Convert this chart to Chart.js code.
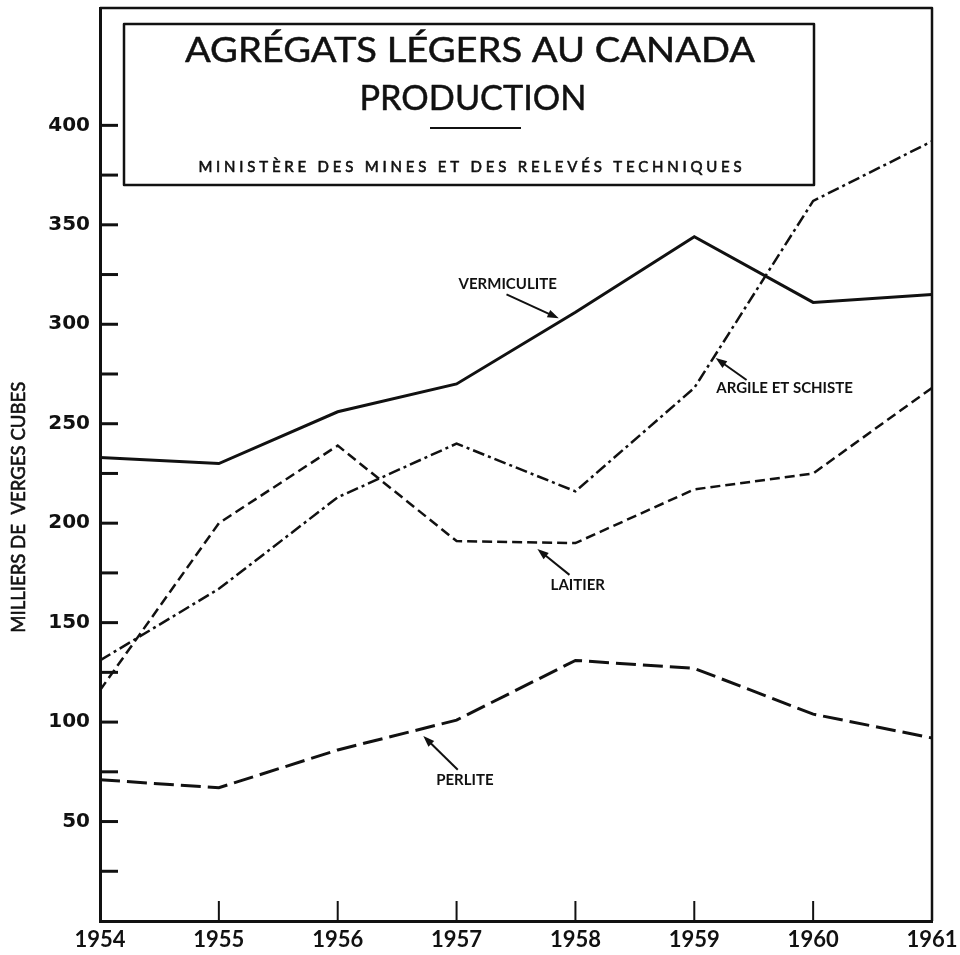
<!DOCTYPE html>
<html>
<head>
<meta charset="utf-8">
<script src="https://cdn.jsdelivr.net/npm/chart.js@4.4.0/dist/chart.umd.min.js"></script>
<style>
  html, body { margin: 0; padding: 0; background: #fff; }
  #chart { display: block; }
</style>
</head>
<body>
<canvas id="chart" width="960" height="955"></canvas>
<script>
const years = ["1954", "1955", "1956", "1957", "1958", "1959", "1960", "1961"];

// milliers de verges cubes
const vermiculite = [233, 230, 256, 270, 306, 344, 311, 315];
const argileSchiste = [131, 167, 213, 240, 216, 268, 362, 392];
const laitier = [116, 200, 239, 191, 190, 217, 225, 268];
const perlite = [71, 67, 86, 101, 131, 127, 104, 92];

const yTicks = [25, 50, 75, 100, 125, 150, 175, 200, 225, 250, 275, 300, 325, 350, 375, 400];
const yLabelled = [50, 100, 150, 200, 250, 300, 350, 400];

const titleLines = ["AGRÉGATS LÉGERS AU CANADA", "PRODUCTION"];
const subtitle = "MINISTÈRE DES MINES ET DES RELEVÉS TECHNIQUES";
const yTitle = "MILLIERS DE  VERGES CUBES";

// label callouts, in data units (x = year index, y = value)
const callouts = [
  { text: "VERMICULITE", at: [3.43, 320], from: [3.42, 315], to: [3.86, 303] },
  { text: "ARGILE ET SCHISTE", at: [5.76, 268], from: [5.44, 272], to: [5.18, 283] },
  { text: "LAITIER", at: [4.02, 169], from: [3.95, 174], to: [3.68, 187] },
  { text: "PERLITE", at: [3.07, 71], from: [3.01, 76], to: [2.72, 93] },
];

const INK = "#111";

function arrow(ctx, x1, y1, x2, y2) {
  const ang = Math.atan2(y2 - y1, x2 - x1);
  const head = 12;
  ctx.beginPath();
  ctx.moveTo(x1, y1);
  ctx.lineTo(x2 - Math.cos(ang) * head * 0.6, y2 - Math.sin(ang) * head * 0.6);
  ctx.stroke();
  ctx.beginPath();
  ctx.moveTo(x2, y2);
  ctx.lineTo(x2 - head * Math.cos(ang - 0.35), y2 - head * Math.sin(ang - 0.35));
  ctx.lineTo(x2 - head * Math.cos(ang + 0.35), y2 - head * Math.sin(ang + 0.35));
  ctx.closePath();
  ctx.fill();
}

// squeeze/stretch a line of text to a given width, centred on x;
// a thin stroke gives the medium weight of the original lettering
function fitText(ctx, text, x, y, width, weight) {
  const w = ctx.measureText(text).width;
  ctx.save();
  ctx.translate(x, y);
  ctx.scale(width / w, 1);
  ctx.fillText(text, 0, 0);
  if (weight) {
    ctx.lineWidth = weight;
    ctx.strokeText(text, 0, 0);
  }
  ctx.restore();
}

const decor = {
  id: "decor",
  afterDraw(chart) {
    const { ctx, chartArea: a, scales } = chart;
    const xs = scales.x, ys = scales.y;
    ctx.save();
    ctx.strokeStyle = INK;
    ctx.fillStyle = INK;
    ctx.lineCap = "butt";
    ctx.lineJoin = "round";

    // frame top + right
    ctx.lineWidth = 2.5;
    ctx.beginPath();
    ctx.moveTo(a.left, a.top);
    ctx.lineTo(a.right, a.top);
    ctx.lineTo(a.right, a.bottom);
    ctx.stroke();

    // inward ticks
    ctx.lineWidth = 3;
    yTicks.forEach((v) => {
      const py = ys.getPixelForValue(v);
      ctx.beginPath();
      ctx.moveTo(a.left, py);
      ctx.lineTo(a.left + 18, py);
      ctx.stroke();
    });
    ctx.lineWidth = 2;
    for (let i = 1; i < years.length - 1; i++) {
      const px = xs.getPixelForValue(i);
      ctx.beginPath();
      ctx.moveTo(px, a.bottom);
      ctx.lineTo(px, a.bottom - 20);
      ctx.stroke();
    }

    // title box
    const bx = a.left + 24, by = a.top + 16, bw = 690, bh = 161;
    ctx.lineWidth = 2.5;
    ctx.strokeRect(bx, by, bw, bh);
    const cx = bx + bw / 2;
    ctx.textAlign = "center";
    ctx.textBaseline = "middle";
    ctx.font = "35px Lato";
    fitText(ctx, titleLines[0], cx + 1, by + 27, 570, 0.5);
    fitText(ctx, titleLines[1], cx + 4, by + 75, 227, 0.5);
    ctx.lineWidth = 2;
    ctx.beginPath();
    ctx.moveTo(cx - 39, by + 104);
    ctx.lineTo(cx + 52, by + 104);
    ctx.stroke();
    ctx.font = "15px Lato";
    const natural = ctx.measureText(subtitle).width;
    const spacing = (547 - natural) / subtitle.length;
    ctx.letterSpacing = spacing.toFixed(2) + "px";
    ctx.fillText(subtitle, cx + 1 + spacing / 2, by + 143);
    ctx.lineWidth = 0.6;
    ctx.strokeText(subtitle, cx + 1 + spacing / 2, by + 143);
    ctx.letterSpacing = "0px";

    // y axis title
    ctx.save();
    ctx.translate(19, ys.getPixelForValue(208));
    ctx.rotate(-Math.PI / 2);
    ctx.font = "19px Lato";
    fitText(ctx, yTitle, 0, 0, 251, 0.6);
    ctx.restore();

    // callouts
    ctx.font = "bold 15px Lato";
    ctx.lineWidth = 2;
    callouts.forEach((c) => {
      ctx.fillText(c.text, xs.getPixelForValue(c.at[0]), ys.getPixelForValue(c.at[1]));
      arrow(ctx,
        xs.getPixelForValue(c.from[0]), ys.getPixelForValue(c.from[1]),
        xs.getPixelForValue(c.to[0]), ys.getPixelForValue(c.to[1]));
    });
    ctx.restore();
  },
};

function series(data, dash, width) {
  return {
    data,
    borderColor: INK,
    borderWidth: width,
    borderDash: dash,
    pointRadius: 0,
    tension: 0,
    fill: false,
  };
}

new Chart(document.getElementById("chart").getContext("2d"), {
  type: "line",
  data: {
    labels: years,
    datasets: [
      series(vermiculite, [], 3),
      series(argileSchiste, [12, 4, 3, 4], 2.5),
      series(laitier, [10, 5], 2.5),
      series(perlite, [20, 7], 3),
    ],
  },
  options: {
    responsive: false,
    devicePixelRatio: 1,
    animation: false,
    layout: { padding: { top: 8, right: 28, left: 0, bottom: 0 } },
    plugins: { legend: { display: false }, tooltip: { enabled: false }, title: { display: false } },
    scales: {
      x: {
        type: "category",
        offset: false,
        grid: { display: false, drawTicks: false },
        border: { display: true, color: INK, width: 3 },
        ticks: { color: INK, font: { family: "Lato", weight: "bold", size: 22 }, padding: 6, maxRotation: 0, autoSkip: false },
        afterFit: (s) => { s.height = 34; s.paddingLeft = 0; s.paddingRight = 0; },
      },
      y: {
        min: 0,
        max: 459,
        grid: { display: false, drawTicks: false },
        border: { display: true, color: INK, width: 3 },
        afterBuildTicks: (s) => { s.ticks = yTicks.map((v) => ({ value: v })); },
        ticks: {
          color: INK,
          font: { family: "DejaVu Sans", weight: "bold", size: 20 },
          padding: 10,
          callback: (v) => (yLabelled.includes(v) ? String(v) : ""),
        },
        afterFit: (s) => { s.width = 100; s.paddingTop = 0; s.paddingBottom = 0; },
      },
    },
  },
  plugins: [decor],
});
</script>
</body>
</html>
